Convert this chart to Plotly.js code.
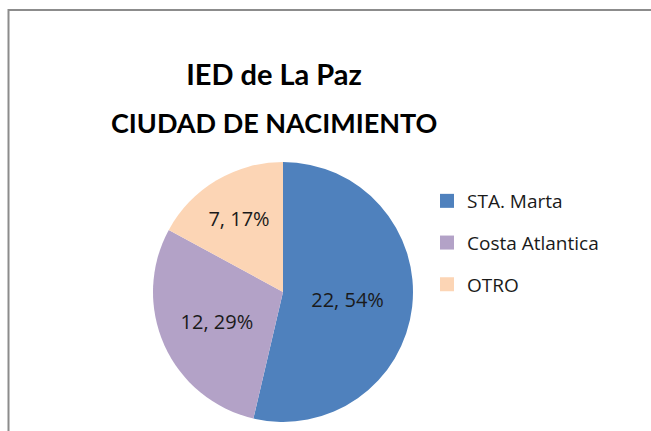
<!DOCTYPE html>
<html>
<head>
<meta charset="utf-8">
<script src="https://cdn.plot.ly/plotly-3.0.1.min.js"></script>
<style>html,body{margin:0;padding:0;background:#fff;}#chart{width:651px;height:431px;}</style>
</head>
<body>
<div id="chart"></div>
<script>
const categories = ["STA. Marta", "Costa Atlantica", "OTRO"];
const counts = [22, 12, 7];
const sliceColors = ["#4F81BD", "#B3A2C7", "#FCD5B5"];
const titleLines = ["IED de La Paz", "CIUDAD DE NACIMIENTO"];

const W = 651, H = 431;
const font = "Open Sans, Liberation Sans, sans-serif";
const titleFont = "Lato, Open Sans, sans-serif";

const data = [{
  type: "pie",
  labels: categories,
  values: counts,
  marker: {colors: sliceColors, line: {width: 0}},
  sort: false,
  direction: "clockwise",
  rotation: 0,
  texttemplate: "%{value}, %{percent:.0%}",
  textposition: "inside",
  insidetextorientation: "horizontal",
  textfont: {family: font, size: 20, color: "#1a1a1a"},
  hoverinfo: "label+value+percent",
  showlegend: false,
  domain: {x: [(283 - 130) / W, (283 + 130) / W], y: [8 / H, 270 / H]}
}];

// legend entries (one per category, own group so spacing can be set)
categories.forEach((c, i) => {
  data.push({
    type: "scatter", mode: "markers",
    x: [null], y: [null],
    name: c, legendgroup: "g" + i,
    marker: {symbol: "square", size: 14, color: sliceColors[i]},
    showlegend: true, hoverinfo: "skip"
  });
});

const layout = {
  width: W, height: H,
  margin: {l: 0, r: 0, t: 0, b: 0},
  paper_bgcolor: "#ffffff",
  plot_bgcolor: "rgba(0,0,0,0)",
  xaxis: {visible: false},
  yaxis: {visible: false},
  title: {
    text: "<b>" + titleLines[0] + "</b>",
    font: {family: titleFont, size: 29, color: "#000000"},
    x: 274 / W, xanchor: "center",
    y: 1 - 75 / H, yanchor: "middle"
  },
  annotations: [{
    text: "<b>" + titleLines[1] + "</b>",
    font: {family: titleFont, size: 27, color: "#000000"},
    xref: "paper", yref: "paper",
    x: 274 / W, xanchor: "center",
    y: 1 - 123 / H, yanchor: "middle",
    showarrow: false
  }],
  showlegend: true,
  legend: {
    x: 427 / W, xanchor: "left",
    y: 1 - 182 / H, yanchor: "top",
    font: {family: font, size: 19, color: "#1a1a1a"},
    bgcolor: "rgba(0,0,0,0)",
    tracegroupgap: 14,
    itemclick: false
  },
  shapes: [{
    type: "rect", xref: "paper", yref: "paper",
    x0: 8.5 / W, x1: 1.05, y0: -0.1, y1: 1 - 10 / H,
    line: {color: "#8c8c8c", width: 2},
    fillcolor: "rgba(0,0,0,0)"
  }]
};

Plotly.newPlot("chart", data, layout, {displayModeBar: false, staticPlot: true});
</script>
</body>
</html>
